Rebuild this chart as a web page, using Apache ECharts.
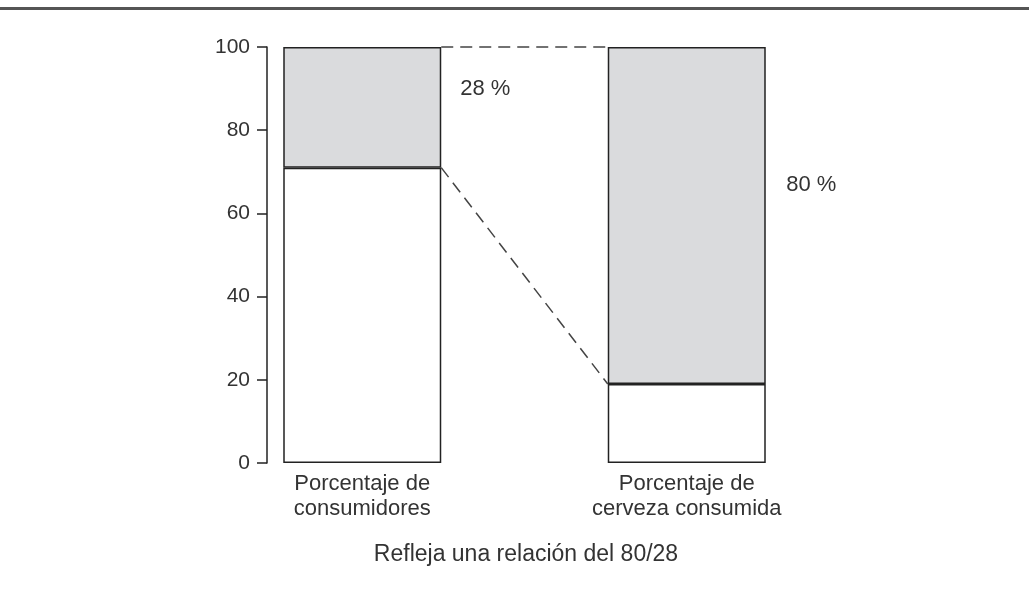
<!DOCTYPE html>
<html>
<head>
<meta charset="utf-8">
<script src="https://cdn.jsdelivr.net/npm/echarts@6/dist/echarts.min.js"></script>
<style>
  html, body { margin: 0; padding: 0; background: #fff; }
  #chart { width: 1029px; height: 590px; }
</style>
</head>
<body>
<div id="chart"></div>
<script>
// datos
var categorias = ['Porcentaje de\nconsumidores', 'Porcentaje de\ncerveza consumida'];
var parteBaja = [71, 19];     // segmento blanco
var parteAlta = [29, 81];     // segmento gris
var etiquetas = ['28 %', '80 %'];
var conexiones = [[100, 100], [71, 19]];  // valor en barra 1 -> valor en barra 2
var nota = 'Refleja una relación del 80/28';

var BAR_W = 158;
var font = '"Liberation Sans", Arial, sans-serif';

var chart = echarts.init(document.getElementById('chart'));

chart.setOption({
  animation: false,
  backgroundColor: '#fff',
  textStyle: { fontFamily: font },
  grid: { left: 200, right: 180, top: 47, bottom: 127 },
  xAxis: {
    type: 'category',
    data: categorias,
    axisLine: { show: false },
    axisTick: { show: false },
    axisLabel: { color: '#333', fontSize: 22, lineHeight: 25, margin: 8 }
  },
  yAxis: {
    type: 'value',
    min: 0, max: 100, interval: 20,
    offset: -67,
    axisLine: { show: true, lineStyle: { color: '#222', width: 1.5 } },
    axisTick: { show: true, inside: false, length: 10, lineStyle: { color: '#222', width: 1.5 } },
    axisLabel: { color: '#333', fontSize: 21, margin: 17 },
    splitLine: { show: false }
  },
  series: [
    {
      type: 'bar',
      stack: 'total',
      barWidth: BAR_W,
      data: parteBaja,
      itemStyle: { color: '#fff', borderColor: '#222', borderWidth: 1.5 }
    },
    {
      type: 'bar',
      stack: 'total',
      barWidth: BAR_W,
      data: parteAlta.map(function (v, i) {
        return {
          value: v,
          label: {
            show: true,
            formatter: etiquetas[i],
            position: i === 0 ? ['112%', '35%'] : ['113%', '41%'],
            verticalAlign: 'middle',
            color: '#333',
            fontSize: 22
          }
        };
      }),
      itemStyle: { color: '#dadbdd', borderColor: '#222', borderWidth: 1.5 }
    },
    {
      // lineas discontinuas entre los bordes de las barras
      type: 'custom',
      data: conexiones.map(function (c) { return [0, c[0], c[1]]; }),
      encode: { x: 0, y: 1 },
      z: 5,
      renderItem: function (params, api) {
        var p1 = api.coord([0, api.value(1)]);
        var p2 = api.coord([1, api.value(2)]);
        return {
          type: 'line',
          shape: { x1: p1[0] + BAR_W / 2, y1: p1[1], x2: p2[0] - BAR_W / 2, y2: p2[1] },
          style: { stroke: '#444', lineWidth: 1.5, lineDash: [12, 7] }
        };
      }
    }
  ],
  graphic: [
    {
      type: 'rect',
      shape: { x: 0, y: 7, width: 1029, height: 3 },
      style: { fill: '#555' }
    },
    {
      type: 'text',
      x: 526, y: 555,
      style: { text: nota, fill: '#333', font: '23px ' + font, textAlign: 'center', textVerticalAlign: 'middle' }
    }
  ]
});
</script>
</body>
</html>
